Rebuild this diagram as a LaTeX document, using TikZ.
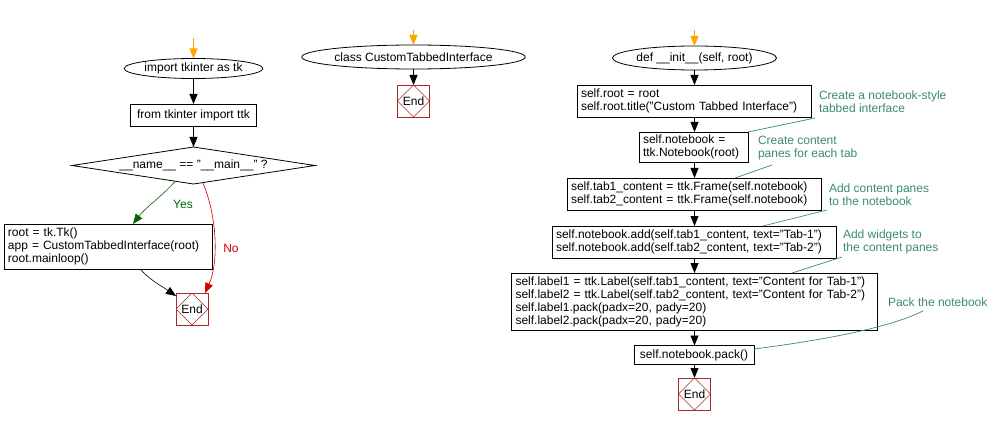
\documentclass[tikz,border=0pt]{standalone}
\usepackage{fontspec}
\setmainfont{Liberation Sans}
\usetikzlibrary{arrows.meta,shapes.geometric,calc}
\definecolor{endc}{RGB}{165,42,42}
\definecolor{cmt}{RGB}{59,138,110}
\definecolor{orng}{RGB}{255,165,0}
\definecolor{yesc}{RGB}{0,100,0}
\definecolor{noc}{RGB}{210,0,0}
\begin{document}
\begin{tikzpicture}[x=1pt,y=-1pt,
  every node/.style={font=\fontsize{12}{13}\selectfont, inner sep=0pt, outer sep=0pt},
  proc/.style={draw, line width=0.8pt, rectangle, align=center},
  codebox/.style={draw, line width=0.8pt, rectangle, align=left, inner xsep=4pt, text width=#1-8pt},
  oval/.style={draw, line width=0.8pt, ellipse},
  cond/.style={draw, line width=0.8pt, diamond, aspect=6.5},
  endbox/.style={draw=endc, line width=0.8pt, rectangle, minimum width=32, minimum height=32,
    path picture={\draw[endc, line width=0.5pt] (path picture bounding box.north) -- (path picture bounding box.east) -- (path picture bounding box.south) -- (path picture bounding box.west) -- cycle;}},
  arr/.style={line width=0.8pt, -{Triangle[length=10pt,width=8pt]}},
  cmttext/.style={text=cmt, align=left, anchor=west},
  cmtline/.style={draw=cmt, line width=0.7pt}]
\useasboundingbox (0,0) rectangle (996,425);

% left column
\coordinate (s1) at (193.5,38);
\node[oval, minimum width=116, minimum height=20] (e1) at (193.5,68.5) {import tkinter as tk};
\node[proc, minimum width=126, minimum height=22] (b0) at (193.5,115) {from tkinter import ttk};
\node[cond, minimum width=243, minimum height=37] (d1) at (193.5,165.5) {\_\_name\_\_ == "\_\_main\_\_" ?};
\node[codebox=208pt, minimum height=45] (b2) at (108,246.5) {root = tk.Tk()\\app = CustomTabbedInterface(root)\\root.mainloop()};
\node[endbox] (end1) at (192,309) {End};
\node[text=yesc] (yes) at (183,204) {Yes};
\node[text=noc] (no) at (231,248) {No};

\draw[arr, orng] (s1) -- (e1.north);
\draw[arr] (e1) -- (b0);
\draw[arr] (b0) -- (d1.north);
\draw[arr, yesc, line width=0.6pt] ($(d1.south)+(-18,-3)$) .. controls (160,198) and (145,208) .. ($(b2.north)+(25,0)$);
\draw[arr, noc, line width=0.6pt] ($(d1.south)+(9,-2)$) .. controls (217,215) and (219,262) .. ($(end1.north)+(13,0)$);
\draw[arr, line width=0.6pt] ($(b2.south)+(32,0)$) .. controls (150,280) and (160,285) .. ($(end1.north west)+(0,3)$);

% middle column
\coordinate (s2) at (413.5,30);
\node[oval, minimum width=183, minimum height=24] (e2) at (413.5,57) {class CustomTabbedInterface};
\node[endbox] (end2) at (413.5,101) {End};
\draw[arr, orng] (s2) -- (e2.north);
\draw[arr] (e2) -- (end2);

% right column
\coordinate (s3) at (694.5,30);
\node[oval, minimum width=135, minimum height=24] (e3) at (694.5,58) {def \_\_init\_\_(self, root)};
\node[codebox=234pt, minimum height=32] (r1) at (694,101) {self.root = root\\self.root.title("Custom Tabbed Interface")};
\node[codebox=109pt, minimum height=30] (r2) at (693.5,147) {self.notebook =\\ttk.Notebook(root)};
\node[codebox=254pt, minimum height=32] (r3) at (694,194) {self.tab1\_content = ttk.Frame(self.notebook)\\self.tab2\_content = ttk.Frame(self.notebook)};
\node[codebox=284pt, minimum height=32] (r4) at (694,242) {self.notebook.add(self.tab1\_content, text="Tab-1")\\self.notebook.add(self.tab2\_content, text="Tab-2")};
\node[codebox=366pt, minimum height=57] (r5) at (694.5,301.5) {self.label1 = ttk.Label(self.tab1\_content, text="Content for Tab-1")\\self.label2 = ttk.Label(self.tab2\_content, text="Content for Tab-2")\\self.label1.pack(padx=20, pady=20)\\self.label2.pack(padx=20, pady=20)};
\node[proc, minimum width=120, minimum height=19] (r6) at (694,355) {self.notebook.pack()};
\node[endbox] (end3) at (694.5,394) {End};

\draw[arr, orng] (s3) -- (e3.north);
\draw[arr] (e3.south) -- (e3.south |- r1.north);
\draw[arr] (e3.south |- r1.south) -- (e3.south |- r2.north);
\draw[arr] (e3.south |- r2.south) -- (e3.south |- r3.north);
\draw[arr] (e3.south |- r3.south) -- (e3.south |- r4.north);
\draw[arr] (e3.south |- r4.south) -- (e3.south |- r5.north);
\draw[arr] (e3.south |- r5.south) -- (e3.south |- r6.north);
\draw[arr] (e3.south |- r6.south) -- (e3.south |- end3.north);

% comments
\node[cmttext] (c1) at (819,101.5) {Create a notebook-style\\tabbed interface};
\node[cmttext] (c2) at (758,148.5) {Create content\\panes for each tab};
\node[cmttext] (c3) at (829,195) {Add content panes\\to the notebook};
\node[cmttext] (c4) at (843,241.5) {Add widgets to\\the content panes};
\node[cmttext] (c5) at (888,302) {Pack the notebook};
\coordinate (k1) at (815,118);
\coordinate (k2) at (772,165);
\coordinate (k3) at (827,210);
\coordinate (k4) at (842,257);
\coordinate (k5) at (923,311);
\draw[cmtline] (k1) -- (r2.north east);
\draw[cmtline] (k2) -- ($(r3.north)+(41,0)$);
\draw[cmtline] (k3) -- ($(r4.north)+(69,0)$);
\draw[cmtline] (k4) -- ($(r5.north)+(97.5,0)$);
\draw[cmtline] (k5) .. controls (895,325) and (840,338) .. ($(r6.east)+(0,-6)$);
\end{tikzpicture}
\end{document}
